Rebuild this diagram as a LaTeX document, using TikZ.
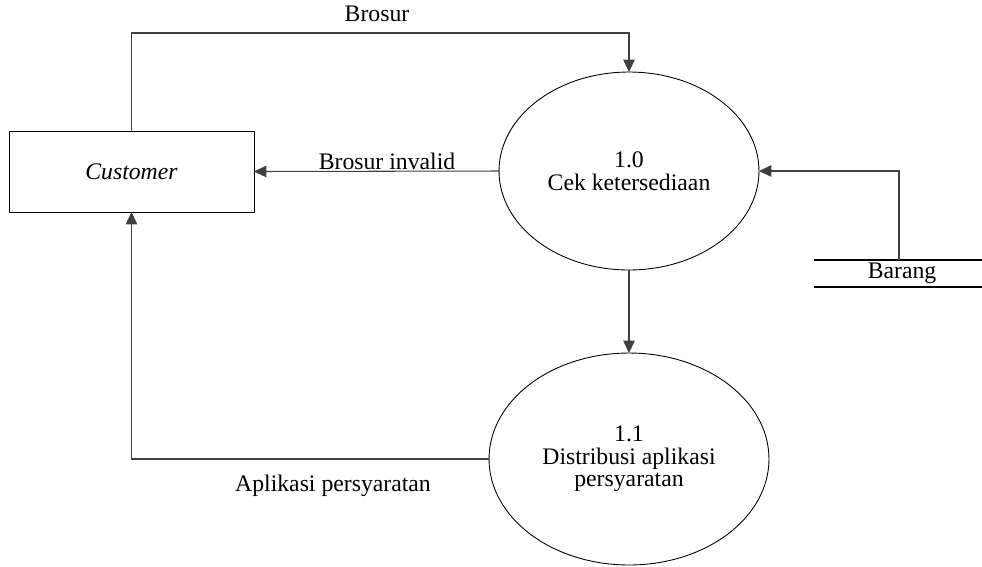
\documentclass[tikz,border=0pt]{standalone}
\usepackage{fontspec}
\setmainfont{Liberation Serif}
\usetikzlibrary{shapes.geometric,arrows.meta}

\tikzset{
	flow/.style={draw=black!75, line width=0.6pt, -{Triangle[length=7pt,width=6.5pt]}},
	entity/.style={draw, line width=0.5pt, minimum width=4.9cm, minimum height=1.62cm, inner sep=0pt, outer sep=0pt},
	process/.style={draw, ellipse, line width=0.5pt, inner sep=0pt, outer sep=0pt, align=center},
	lbl/.style={inner sep=0pt}
}

\begin{document}
\fontsize{13.5}{12.8}\selectfont
\begin{tikzpicture}[x=0.02cm, y=-0.02cm]
			\useasboundingbox (0,0) rectangle (982,566);
			\node[entity] (cust) at (131.5,171.5) {\textit{Customer}};
			\node[process, minimum width=5.2cm, minimum height=3.96cm] (p10) at (629,171) {1.0\\Cek ketersediaan};
			\node[process, minimum width=5.6cm, minimum height=4.24cm] (p11) at (629,459) {1.1\\Distribusi aplikasi\\persyaratan};
			\draw[line width=0.6pt] (814,260) -- (982,260);
			\draw[line width=0.6pt] (814,287) -- (982,287);
			\node[lbl] (barang) at (902,273.5) {Barang};
			\coordinate (top) at (629,33);
			\coordinate (store) at (899,260);
			\draw[flow] (cust.north) |- (top) -- (p10);
			\node[lbl] (lbrosur) at (377,14) {Brosur};
			\draw[flow] (p10.west) -- (cust.east);
			\node[lbl] (linvalid) at (387,161) {Brosur invalid};
			\draw[flow] (store) |- (p10.east);
			\draw[flow] (p10.south) -- (p11.north);
			\draw[flow] (p11.west) -| (cust.south);
			\node[lbl] (lapp) at (333,486) {Aplikasi persyaratan};
		\end{tikzpicture}
\end{document}
